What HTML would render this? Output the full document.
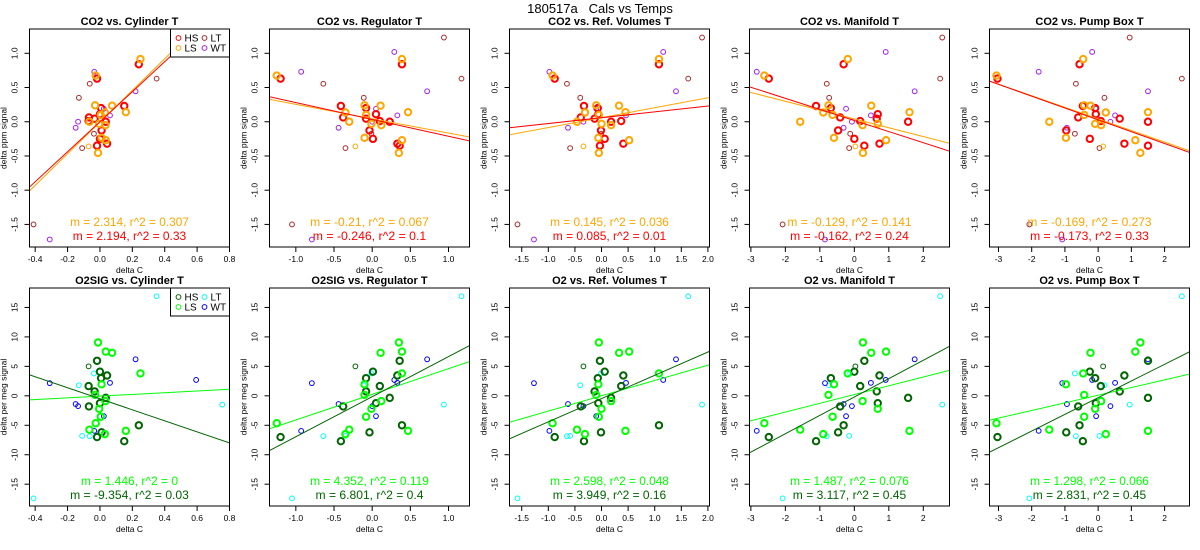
<!DOCTYPE html>
<html><head><meta charset="utf-8">
<style>
html,body{margin:0;padding:0;background:#fff;}
svg{display:block;font-family:"Liberation Sans",Arial,sans-serif;}
</style></head>
<body>
<svg id="chart" width="1200" height="550" viewBox="0 0 1200 550" xmlns="http://www.w3.org/2000/svg">
<text x="600" y="13" text-anchor="middle" font-size="13">180517a&#160;&#160;&#160;Cals vs Temps</text>
</svg>
<script>
// ---- data (one row per calibration) ----
const groups = ["LT","LT","LT","LT","LT","LT","LT","WT","WT","WT","WT","WT","WT","WT","WT","LSs",
 "HS","HS","HS","HS","HS","HS","HS","HS","HS","HS","HS","HS","HS",
 "LS","LS","LS","LS","LS","LS","LS","LS","LS","LS","LS","LS","LS"];
const co2 = [-1.5,0.555,0.35,-0.385,0.63,-0.175,1.23, -1.72,0.73,-0.088,0,0.445,0.19,1.02,0.093, -0.36,
 0.84,0.63,0.2,0.11,0.063,0.045,0.23,-0.127,-0.35,-0.32,-0.25,0,0.01,
 0.915,0.675,0.24,0.235,0.14,0.135,0,-0.03,-0.05,-0.235,-0.27,-0.455,0.1];
const o2 = [-17.4,-6.85,1.8,-6.8,16.9,3.8,-1.5, 2.15,-5.95,-1.4,-1.75,6.2,-3.45,2.7,2.2, 5.0,
 -5.0,-7.0,3.0,-1.25,-1.8,0.75,-7.7,-6.2,5.95,3.45,4.1,-0.35,1.65,
 3.8,-4.65,0.15,7.3,-5.95,-6.5,-5.75,-2.2,-0.9,1.95,7.5,9.05,-3.55];
const xCyl = [-0.41,-0.063,-0.13,-0.11,0.35,-0.037,0.755, -0.31,-0.035,-0.15,-0.135,0.22,0.024,0.594,0.062, -0.07,
 0.24,-0.018,0.007,0,-0.068,-0.033,0.15,0.01,-0.018,0.044,0,0.036,-0.07,
 0.25,-0.026,-0.03,0.075,0.16,0.03,-0.065,-0.005,0.034,0.01,0.036,-0.012,0.005];
const xReg = [-1.05,-0.64,-0.11,-0.35,1.17,-0.01,0.94, -0.79,-0.93,-0.44,0,0.72,0.05,0.29,0.33, -0.22,
 0.39,-1.2,-0.08,0.05,-0.38,-0.08,-0.41,-0.035,0.36,0.33,0.01,0.23,0.1,
 0.39,-1.25,-0.1,0.11,0.47,-0.35,-0.3,-0.01,0.12,-0.1,0.39,0.35,-0.08];
const xRef = [-1.58,-0.65,-0.4,-0.59,1.63,-0.01,1.89, -1.27,-0.98,-0.63,-0.34,1.4,-0.1,1.16,0.46, -0.34,
 1.08,-0.88,-0.07,-0.06,-0.39,-0.13,-0.33,-0.01,-0.03,0.41,0.06,0.18,0.37,
 1.08,-0.92,-0.1,0.33,0.45,-0.31,-0.46,0,0.18,-0.06,0.52,-0.05,-0.05];
const xMan = [-2.08,-0.8,-0.73,-0.15,2.49,-0.12,2.55, -0.85,-2.83,-0.31,-0.07,1.75,-0.24,0.91,0.48, 0.03,
 -0.31,-2.48,-0.68,0.68,-0.41,0.65,-1.11,-0.47,0.29,0.73,0,1.56,0.17,
 -0.19,-2.61,-0.75,0.49,1.6,-0.9,-1.57,0.68,0.24,-0.59,0.92,0.25,-0.63];
const xPump = [-2.07,-0.67,0.19,0.04,2.52,-0.7,0.95, -1.08,-1.79,-0.94,0.37,1.5,-0.06,-0.18,0.51, 0.15,
 -0.56,-3.03,-0.09,-0.07,-0.6,0.65,-0.46,-0.96,1.5,0.79,-0.25,1.5,0.08,
 -0.45,-3.06,-0.42,-0.23,1.5,0.23,-1.47,-0.09,0.09,-0.97,1.12,1.27,-0.42];
const sensorNames = ["Cylinder T","Regulator T","Ref. Volumes T","Manifold T","Pump Box T"];
const xTicks = [[-0.4,-0.2,0.0,0.2,0.4,0.6,0.8],[-1.0,-0.5,0.0,0.5,1.0],[-1.5,-1.0,-0.5,0.0,0.5,1.0,1.5,2.0],[-3,-2,-1,0,1,2],[-3,-2,-1,0,1,2]];
const xTickLabels = [["-0.4","-0.2","0.0","0.2","0.4","0.6","0.8"],["-1.0","-0.5","0.0","0.5","1.0"],["-1.5","-1.0","-0.5","0.0","0.5","1.0","1.5","2.0"],["-3","-2","-1","0","1","2"],["-3","-2","-1","0","1","2"]];
const co2Ticks = [-1.5,-1.0,-0.5,0.0,0.5,1.0];
const co2TickLabels = ["-1.5","-1.0","-0.5","0.0","0.5","1.0"];
const o2Ticks = [-15,-10,-5,0,5,10,15];
const o2TickLabels = ["-15","-10","-5","0","5","10","15"];
// regression fits
const co2LsSlope = [2.314,-0.21,0.145,-0.129,-0.169];
const co2LsR2 = ["0.307","0.067","0.036","0.141","0.273"];
const co2LsIcpt = [-0.005,0.044,0.06,0.041,0.041];
const co2HsSlope = [2.194,-0.246,0.085,-0.162,-0.173];
const co2HsR2 = ["0.33","0.1","0.01","0.24","0.33"];
const co2HsIcpt = [0.0,0.034,0.059,0.018,0.028];
const o2LsSlope = [1.446,4.352,2.598,1.487,1.298];
const o2LsR2 = ["0","0.119","0.048","0.076","0.066"];
const o2LsIcpt = [-0.05,0.25,0.0,0.22,0.11];
const o2HsSlope = [-9.354,6.801,3.949,3.117,2.831];
const o2HsR2 = ["0.03","0.4","0.16","0.45","0.45"];
const o2HsIcpt = [-0.5,-0.15,-0.47,-0.2,-0.31];

// ---- layout ----
const NS="http://www.w3.org/2000/svg";
const svg=document.getElementById('chart');
const xLims=[[-0.435,0.8],[-1.345,1.275],[-1.73,2.03],[-3.04,2.76],[-3.27,2.75]];
const xData=[xCyl,xReg,xRef,xMan,xPump];
const PW=200;
function mk(tag,attrs,parent){const e=document.createElementNS(NS,tag);for(const k in attrs)e.setAttribute(k,attrs[k]);(parent||svg).appendChild(e);return e;}
function fmtM(v){return String(v);}

const rows=[
 {kind:"co2",top:29,bot:247,ylim:[-1.83,1.355],y:co2,ticks:co2Ticks,tl:co2TickLabels,ytitle:"delta ppm signal",
  col:{HS:"#FF0000",LS:"#FFA500",LSs:"#FFA500",LT:"#A52A2A",WT:"#A020F0"},lsCol:"#FFA500",hsCol:"#FF0000",
  lsS:co2LsSlope,lsI:co2LsIcpt,lsR:co2LsR2,hsS:co2HsSlope,hsI:co2HsIcpt,hsR:co2HsR2,
  title:i=>"CO2 vs. "+sensorNames[i]},
 {kind:"o2",top:288,bot:506,ylim:[-18.7,18.3],y:o2,ticks:o2Ticks,tl:o2TickLabels,ytitle:"delta per meg signal",
  col:{HS:"#006400",LS:"#00FF00",LSs:"#006400",LT:"#00FFFF",WT:"#0000FF"},lsCol:"#00FF00",hsCol:"#006400",
  lsS:o2LsSlope,lsI:o2LsIcpt,lsR:o2LsR2,hsS:o2HsSlope,hsI:o2HsIcpt,hsR:o2HsR2,
  title:i=>(i<2?"O2SIG vs. ":"O2 vs. ")+sensorNames[i]}
];

rows.forEach((R,ri)=>{
 for(let i=0;i<5;i++){
  const L=29.5+240*i, T=R.top, B=R.bot;
  const xs=v=>L+(v-xLims[i][0])/(xLims[i][1]-xLims[i][0])*PW;
  const ys=v=>B-(v-R.ylim[0])/(R.ylim[1]-R.ylim[0])*(B-T);
  const g=mk('g',{});
  
  
  const cid='clip'+ri+'_'+i;
  const cp=mk('clipPath',{id:cid},g); mk('rect',{x:L,y:T,width:PW,height:B-T},cp);
  const t=mk('text',{x:L+PW/2,y:T-4,'text-anchor':'middle','font-size':'11','font-weight':'bold'},g);
  t.textContent=R.title(i);
  
  
  const xa=mk('g',{},g);
  
  
  xTicks[i].forEach((v,k)=>{const x=xs(v);
   mk('line',{x1:x,x2:x,y1:B,y2:B+5,stroke:'#000','stroke-width':1},xa);
   const tx=mk('text',{x:x,y:B+15,'text-anchor':'middle','font-size':'8.5'},xa);tx.textContent=xTickLabels[i][k];});
  const xt=mk('text',{x:L+PW/2,y:B+26,'text-anchor':'middle','font-size':'8.5'},xa);xt.textContent="delta C";
  
  
  const ya=mk('g',{},g);
  
  
  R.ticks.forEach((v,k)=>{const y=ys(v);
   mk('line',{x1:L-5,x2:L,y1:y,y2:y,stroke:'#000','stroke-width':1},ya);
   const tx=mk('text',{x:L-12,y:y,'text-anchor':'middle','font-size':'8.5',transform:`rotate(-90 ${L-12} ${y})`},ya);tx.textContent=R.tl[k];});
  const ytc=(T+B)/2;
  const yt=mk('text',{x:L-23,y:ytc,'text-anchor':'middle','font-size':'8.5',transform:`rotate(-90 ${L-23} ${ytc})`},ya);yt.textContent=R.ytitle;
  
  
  const pg=mk('g',{'clip-path':`url(#${cid})`},g);
  
  
  for(let k=0;k<groups.length;k++){
   const gr=groups[k]; const thick=(gr==="HS"||gr==="LS");
   const c=mk('circle',{cx:xs(xData[i][k]),cy:ys(R.y[k]),r:thick?3.2:2.4,fill:'none',stroke:R.col[gr],'stroke-width':thick?2:1},pg);
   
   
  }
  const x0=xLims[i][0], x1=xLims[i][1];
  const lsl=mk('line',{x1:xs(x0),y1:ys(R.lsI[i]+R.lsS[i]*x0),x2:xs(x1),y2:ys(R.lsI[i]+R.lsS[i]*x1),stroke:R.lsCol,'stroke-width':1},pg);
  
  
  const hsl=mk('line',{x1:xs(x0),y1:ys(R.hsI[i]+R.hsS[i]*x0),x2:xs(x1),y2:ys(R.hsI[i]+R.hsS[i]*x1),stroke:R.hsCol,'stroke-width':1},pg);
  
  
  const s1="m = "+fmtM(R.lsS[i])+", r^2 = "+R.lsR[i];
  const s2="m = "+fmtM(R.hsS[i])+", r^2 = "+R.hsR[i];
  const a1=mk('text',{x:L+PW/2,y:B-21,'text-anchor':'middle','font-size':'12',fill:R.lsCol,textLength:String(s1.length*5.4),lengthAdjust:'spacingAndGlyphs'},g);
  a1.textContent=s1;
  
  
  const a2=mk('text',{x:L+PW/2,y:B-7,'text-anchor':'middle','font-size':'12',fill:R.hsCol,textLength:String(s2.length*5.4),lengthAdjust:'spacingAndGlyphs'},g);
  a2.textContent=s2;
  
  
  if(i===0){
   const lg=mk('g',{},g);
   
   
   mk('rect',{x:L+141,y:T,width:59,height:28,fill:'#fff',stroke:'#000','stroke-width':1},lg);
   const ents=[["HS",0,0],["LS",0,1],["LT",1,0],["WT",1,1]];
   ents.forEach(e=>{
    const cx=L+149+e[1]*26, cy=T+9+e[2]*10;
    const en=mk('g',{},lg);
    
    
    mk('circle',{cx:cx,cy:cy,r:2.4,fill:'none',stroke:R.col[e[0]],'stroke-width':1},en);
    const tx=mk('text',{x:cx+6,y:cy+3.5,'font-size':'10'},en);tx.textContent=e[0];
   });
  }
  const box=mk('rect',{x:L,y:T,width:PW,height:B-T,fill:'none',stroke:'#000','stroke-width':1},g);
  
  
 }
});
</script>
</body></html>
